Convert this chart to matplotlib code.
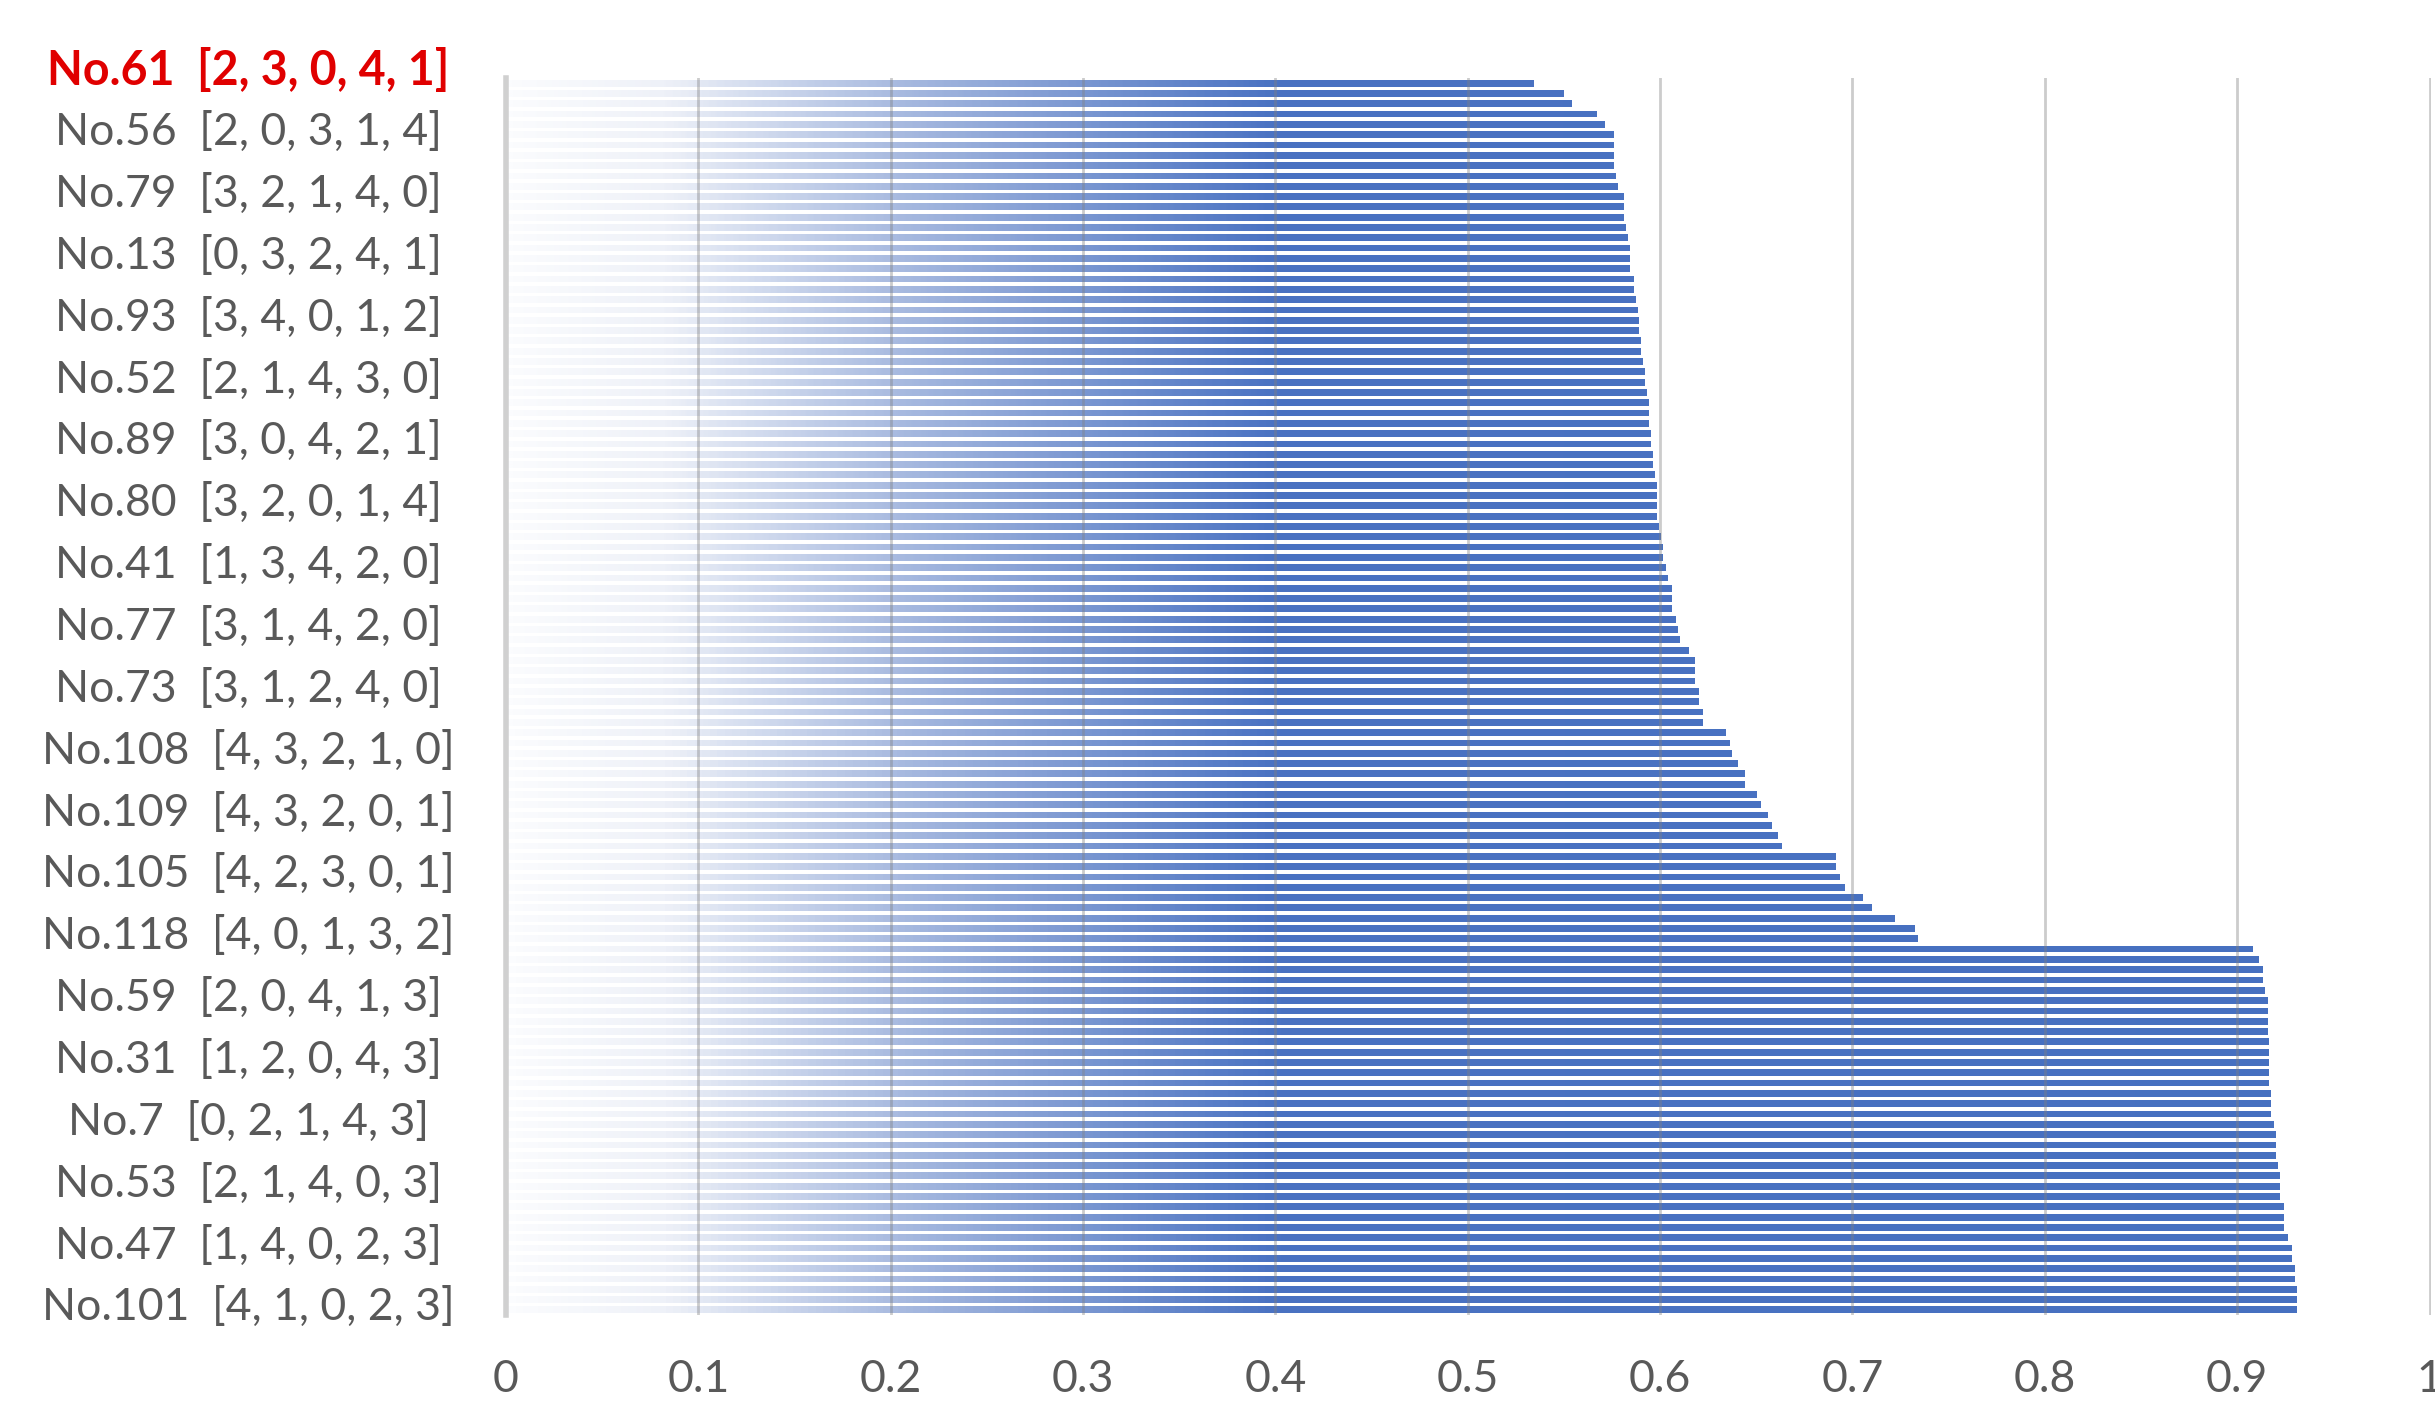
import numpy as np
import matplotlib
matplotlib.use('Agg')
import matplotlib.pyplot as plt
import matplotlib.transforms as mtransforms
from matplotlib.colors import LinearSegmentedColormap
from matplotlib.ticker import FuncFormatter

plt.rcParams['font.family'] = ['Lato', 'DejaVu Sans']

# scores of the 120 orderings, top to bottom as drawn
values = [
    0.534, 0.550, 0.554, 0.567, 0.571, 0.576, 0.576, 0.576, 0.576, 0.577,
    0.578, 0.581, 0.581, 0.581, 0.582, 0.583, 0.584, 0.584, 0.584, 0.586,
    0.586, 0.587, 0.588, 0.589, 0.589, 0.590, 0.590, 0.591, 0.592, 0.592,
    0.593, 0.594, 0.594, 0.594, 0.595, 0.595, 0.596, 0.596, 0.597, 0.598,
    0.598, 0.598, 0.598, 0.599, 0.600, 0.601, 0.601, 0.603, 0.604, 0.606,
    0.606, 0.606, 0.608, 0.609, 0.610, 0.615, 0.618, 0.618, 0.618, 0.620,
    0.620, 0.622, 0.622, 0.634, 0.636, 0.637, 0.640, 0.644, 0.644, 0.650,
    0.652, 0.656, 0.658, 0.661, 0.663, 0.691, 0.691, 0.693, 0.696, 0.705,
    0.710, 0.722, 0.732, 0.734, 0.908, 0.911, 0.913, 0.913, 0.914, 0.9155,
    0.9155, 0.9155, 0.9155, 0.9165, 0.9165, 0.9165, 0.9165, 0.9165, 0.9175, 0.9175,
    0.9175, 0.919, 0.920, 0.920, 0.920, 0.921, 0.922, 0.922, 0.922, 0.924,
    0.924, 0.924, 0.926, 0.928, 0.928, 0.930, 0.930, 0.931, 0.931, 0.931,
]

# only every 6th ordering is labelled
label_ids = [61, 56, 79, 13, 93, 52, 89, 80, 41, 77, 73,
             108, 109, 105, 118, 59, 31, 7, 53, 47, 101]
label_perms = ['[2, 3, 0, 4, 1]', '[2, 0, 3, 1, 4]', '[3, 2, 1, 4, 0]',
               '[0, 3, 2, 4, 1]', '[3, 4, 0, 1, 2]', '[2, 1, 4, 3, 0]',
               '[3, 0, 4, 2, 1]', '[3, 2, 0, 1, 4]', '[1, 3, 4, 2, 0]',
               '[3, 1, 4, 2, 0]', '[3, 1, 2, 4, 0]', '[4, 3, 2, 1, 0]',
               '[4, 3, 2, 0, 1]', '[4, 2, 3, 0, 1]', '[4, 0, 1, 3, 2]',
               '[2, 0, 4, 1, 3]', '[1, 2, 0, 4, 3]', '[0, 2, 1, 4, 3]',
               '[2, 1, 4, 0, 3]', '[1, 4, 0, 2, 3]', '[4, 1, 0, 2, 3]']
highlight = 61

fig = plt.figure(figsize=(24.35, 14.03), dpi=100)
ax = fig.add_axes([0.2078, 0.0627, 0.7906, 0.8817])

y = np.arange(len(values))
bars = ax.barh(y, values, height=0.66, color='none', edgecolor='none')

# gradient fill: almost white on the left, blue from about 0.4 on
cmap = LinearSegmentedColormap.from_list(
    'fade', [(0, '#fbfcfe'), (0.08, '#eef1f8'), (0.2, '#a9bbe0'), (0.4, '#4a72c2'), (1, '#4670c0')])
for b in bars:
    x0, y0, w, h = b.get_x(), b.get_y(), b.get_width(), b.get_height()
    im = ax.imshow(np.linspace(x0, x0 + w, 400)[None, :],
                   extent=[x0, x0 + w, y0 + h, y0], cmap=cmap, vmin=0, vmax=1,
                   aspect='auto', interpolation='bilinear', zorder=1)
    im.set_clip_path(b)

ax.set_xlim(0, 1.0008)
ax.set_ylim(len(values) - 0.5, -0.5)
ax.set_xticks(np.arange(0, 1.01, 0.1))
ax.xaxis.set_major_formatter(FuncFormatter(lambda v, p: f'{round(v, 1):g}'))
ax.set_yticks([])
ax.tick_params(axis='x', length=0, pad=32, labelsize=32, labelcolor='#595959')

ax.grid(axis='x', color='#808080', alpha=0.4, linewidth=2)
ax.set_axisbelow(False)

for s in ['top', 'right', 'bottom']:
    ax.spines[s].set_visible(False)
ax.spines['left'].set_color('#d0d0d0')
ax.spines['left'].set_linewidth(4)
ax.spines['left'].set_zorder(5)

trans = mtransforms.blended_transform_factory(ax.transAxes, ax.transData)
label_pos = np.arange(len(label_ids)) * 6 - 1.2
for pos, n, p in zip(label_pos, label_ids, label_perms):
    if n == highlight:
        ax.text(-0.134, pos, f'No.{n}  {p}', transform=trans, ha='center', va='center',
                fontsize=33.5, color='#e00000', fontweight='bold', clip_on=False)
    else:
        ax.text(-0.134, pos, f'No.{n}  {p}', transform=trans, ha='center', va='center',
                fontsize=32, color='#595959', clip_on=False)

fig.savefig('out.png', dpi=100, facecolor='white')
